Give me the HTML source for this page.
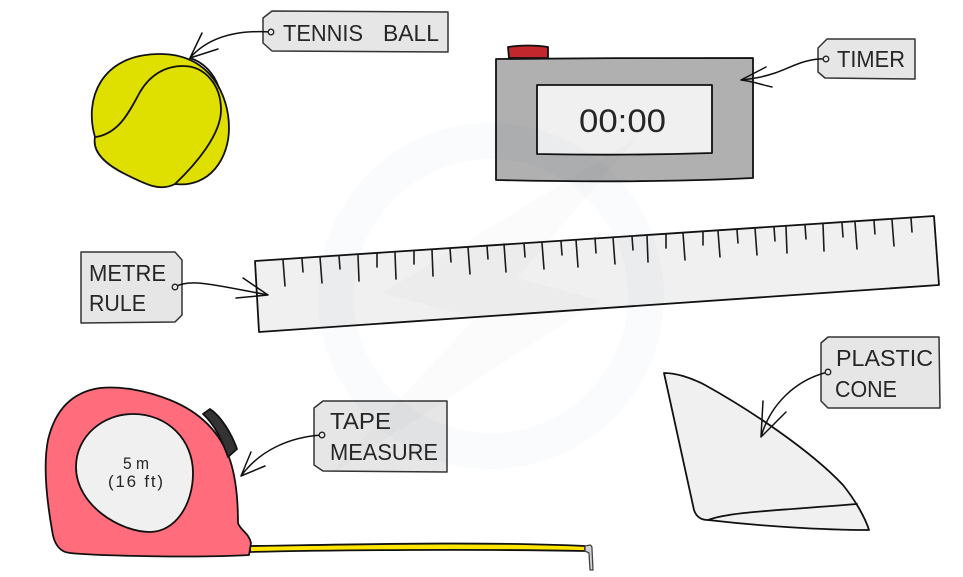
<!DOCTYPE html>
<html><head><meta charset="utf-8"><style>
html,body{margin:0;padding:0;background:#fff}
svg{display:block}
text{font-family:"Liberation Sans",sans-serif;fill:#262626;font-size:23.5px}
.s{fill:none;stroke:#111;stroke-width:1.5;stroke-linecap:round;stroke-linejoin:round}
.o{stroke:#111;stroke-width:1.8;stroke-linejoin:round;stroke-linecap:round}
.tag{fill:#e6e6e6;stroke:#333;stroke-width:1.5;stroke-linejoin:round}
.hole{fill:#e6e6e6;stroke:#222;stroke-width:1.3}
.tk{stroke:#1a1a1a;stroke-width:1.6;stroke-linecap:round;fill:none}
</style></head><body>
<svg width="963" height="577" viewBox="0 0 963 577" xmlns="http://www.w3.org/2000/svg">
<rect width="963" height="577" fill="#fff"/>

<!-- Tennis ball -->
<path class="o" fill="#dfdf00" d="M95,137 C84,100 100,54 160,54 C210,54 229,95 229,128 C229,158 210,188 175,184 C160,192 145,184 125,174 C105,164 92,152 95,137Z"/>
<path class="o" fill="none" d="M96,137 C120,133 130,110 140,92 C150,75 165,66 183,66 C205,66 221,85 221,110 C221,135 195,165 175,184"/>
<path class="o" fill="none" d="M190,58 C203,62 214,73 219,88"/>
<path class="tag" d="M263,18 L272,11 L448,12 L448,52 L272,51 L263,43Z"/>
<text x="283" y="41" textLength="80" lengthAdjust="spacingAndGlyphs">TENNIS</text>
<text x="383" y="41" textLength="56" lengthAdjust="spacingAndGlyphs">BALL</text>
<path class="s" d="M271,32 C240,30 210,35 190,58 M202,33 L190,58 L218,49"/>
<circle class="hole" cx="271" cy="32" r="2.8"/>

<!-- Timer -->
<path class="o" fill="#c1272d" d="M509,58 L508,47 C520,45 536,45 548,47 L548,58Z"/>
<path class="o" fill="#b0b0b0" d="M496,59 C580,58 670,58 753,58 L753,178 C670,182 580,182 496,180Z"/>
<path class="o" fill="#f0f0f0" d="M537,85 L712,85 L712,153 C650,155 590,155 537,154Z"/>
<text x="579" y="132" textLength="87" lengthAdjust="spacingAndGlyphs" style="font-size:32px">00:00</text>
<path class="tag" d="M818,48 L827,39 L915,39 L915,79 L825,78 L818,72Z"/>
<text x="837" y="67" textLength="68" lengthAdjust="spacingAndGlyphs">TIMER</text>
<path class="s" d="M826,59 C805,58 790,68 775,73 C760,78 750,79 741,80 M766,67 L741,80 C752,81 762,85 772,87"/>
<circle class="hole" cx="826" cy="59" r="2.8"/>

<!-- Ruler -->
<path class="o" fill="#f0f0f0" d="M255,261 L934,216 L939,285 L259,332Z"/>
<path class="tk" d="M283,260L285,286M302,259L303,272M320,257L322,283M339,256L340,269M358,255L359,281M377,253L377,267M395,253L396,279M414,251L414,264M432,250L433,276M450,248L451,262M468,247L470,274M487,246L488,259M504,244L506,272M524,243L525,257M542,243L544,269M561,241L562,255M576,240L578,267M595,238L596,253M613,237L615,264M632,236L633,250M647,235L648,262M666,234L666,248M683,233L685,260M703,232L703,245M718,231L720,257M737,230L738,243M755,228L757,255M774,227L775,241M786,227L787,253M805,225L806,239M823,224L824,251M842,223L843,237M855,222L857,249M874,221L875,234M892,220L894,246M911,218L912,232"/>
<path class="tag" d="M81,252 L175,252 L182,260 L182,315 L175,322 L81,323Z"/>
<text x="89" y="281" textLength="77" lengthAdjust="spacingAndGlyphs">METRE</text>
<text x="89" y="311" textLength="57" lengthAdjust="spacingAndGlyphs">RULE</text>
<path class="s" d="M175,287 C190,278 215,285 268,295 M243,278 L268,295 L236,298"/>
<circle class="hole" cx="175" cy="287" r="2.8"/>

<!-- Tape -->
<path class="o" fill="#ffe600" stroke-width="1.6" d="M250,546 C330,545 480,541 585,546 L585,551 C480,549 330,550 250,552Z"/>
<path stroke="#444" stroke-width="1.3" fill="#d2d2d2" stroke-linejoin="round" d="M585,546 L590,545 C592,546 592,547 592,549 L593,570 L590,570 L589,553 L585,551Z"/>
<path class="o" fill="#ff6d7d" d="M249,555 L251,543 C249,533 240,530 238,523 C238,495 235,475 230,460 C220,432 200,412 170,400 C145,390 120,386 100,388 C72,392 55,410 48,440 C44,460 45,490 52,530 C54,545 60,552 70,553 C100,556 200,558 249,555Z"/>
<path class="o" fill="#333" d="M203,414 L210,409 C222,417 232,435 237,449 L228,457 C222,440 215,425 203,414Z"/>
<path class="o" fill="#f0f0f0" d="M76,467 C76,436 103,414 133,414 C168,414 193,440 193,473 C193,505 175,532 150,532 C120,532 76,505 76,467Z"/>
<text x="123" y="469" textLength="26" lengthAdjust="spacingAndGlyphs" style="font-size:17px">5 m</text>
<text x="108" y="487" textLength="55" lengthAdjust="spacing" style="font-size:17px">(16 ft)</text>
<path class="tag" d="M314,408 L323,401 L447,401 L447,472 L323,471 L314,465Z"/>
<text x="330" y="429" textLength="61" lengthAdjust="spacingAndGlyphs">TAPE</text>
<text x="330" y="460" textLength="108" lengthAdjust="spacingAndGlyphs">MEASURE</text>
<path class="s" d="M322,435 C290,437 260,450 241,476 M251,452 L241,476 L265,466"/>
<circle class="hole" cx="322" cy="435" r="2.8"/>

<!-- Cone -->
<path class="o" fill="#f0f0f0" d="M664,373 C675,373 690,377 705,385 C750,410 810,450 843,485 C855,500 865,517 869,530 C820,530 760,526 708,520 C700,520 696,516 694,510Z"/>
<path class="o" fill="none" d="M708,520 C730,512 770,511 857,504"/>
<path class="tag" d="M821,343 L828,337 L939,337 L940,408 L828,408 L821,401Z"/>
<text x="836" y="366" textLength="97" lengthAdjust="spacingAndGlyphs">PLASTIC</text>
<text x="835" y="397" textLength="62" lengthAdjust="spacingAndGlyphs">CONE</text>
<path class="s" d="M828,372 C795,380 770,405 761,437 M763,401 L761,437 L786,412"/>
<circle class="hole" cx="828" cy="372" r="2.8"/>

<!-- Watermark -->
<circle cx="491" cy="296" r="155" fill="none" stroke="#005080" stroke-opacity=".022" stroke-width="36"/>
<polygon points="637,138 382,293 475,318 327,477 577,315 600,300 517,278" fill="#000" fill-opacity=".014"/>
</svg>
</body></html>
